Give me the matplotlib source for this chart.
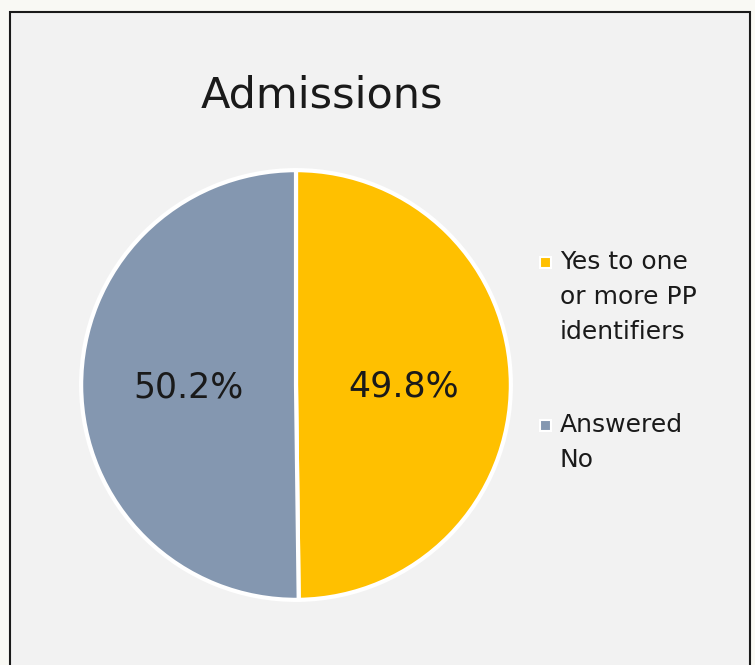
import numpy as np
import matplotlib.pyplot as plt
from matplotlib.patches import Rectangle

title = "Admissions"
labels = ["Yes to one\nor more PP\nidentifiers", "Answered\nNo"]
shares = [49.8, 50.2]
colors = ["#FFC000", "#8497B0"]

fig = plt.figure(figsize=(7.55, 6.65), dpi=100)
fig.patch.set_facecolor("#f9f9f4")

W, H = 755, 665
# chart panel with dark border (bottom edge runs off the image)
panel = Rectangle((10 / W, -0.05), 740 / W, (H - 12) / H + 0.05,
                  transform=fig.transFigure, facecolor="#f2f2f2",
                  edgecolor="#1a1a1a", linewidth=1.5, zorder=-5)
fig.patches.append(panel)

# pie centred at (296, 385), radius ~215 px
r = 217
ax = fig.add_axes([(296 - r) / W, (H - 385 - r) / H, 2 * r / W, 2 * r / H])
ax.set_facecolor("none")
ax.set_zorder(2)
wedges, texts = ax.pie(shares, colors=colors, startangle=90, counterclock=False,
                       wedgeprops=dict(edgecolor="white", linewidth=3),
                       radius=1)
ax.set_xlim(-1.01, 1.01)
ax.set_ylim(-1.01, 1.01)
ax.set_aspect("equal")

for w, v in zip(wedges, shares):
    ang = np.deg2rad((w.theta1 + w.theta2) / 2)
    ax.text(0.5 * np.cos(ang), 0.5 * np.sin(ang) - 0.01, f"{v:.1f}%",
            ha="center", va="center", fontsize=25, color="#1a1a1a")

fig.text(322 / W, 1 - 96 / H, title, ha="center", va="center",
         fontsize=31, color="#1a1a1a")

# legend: small square aligned with first line of each label
leg_y = [262, 425]
for lab, col, y in zip(labels, colors, leg_y):
    sq = Rectangle((540 / W, 1 - (y + 6) / H), 11 / W, 11 / H,
                   transform=fig.transFigure, facecolor=col,
                   edgecolor="white", linewidth=1.5, zorder=3)
    fig.patches.append(sq)
    fig.text(560 / W, 1 - (y - 12) / H, lab, ha="left", va="top",
             fontsize=18, color="#1a1a1a", linespacing=1.58)

fig.savefig("out.png", dpi=100, facecolor=fig.get_facecolor())
